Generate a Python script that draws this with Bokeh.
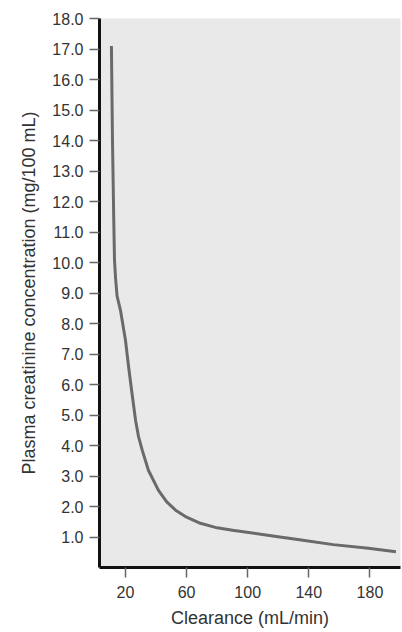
from bokeh.plotting import figure
from bokeh.models import Range1d, FixedTicker, PrintfTickFormatter
from bokeh.embed import file_html
from bokeh.resources import INLINE

# Data
clearance = [10.8, 11.5, 12.3, 12.8, 13.5, 14.5, 16.7, 18.5, 20, 22, 24, 26.6, 28.5, 31, 35,
             41.6, 47, 52.8, 60, 69, 80, 90, 113, 135, 156, 179, 197]
creatinine = [17.1, 14.0, 11.5, 10.1, 9.5, 8.9, 8.44, 7.9, 7.45, 6.6, 5.81, 4.83, 4.3, 3.84, 3.19,
              2.53, 2.15, 1.88, 1.65, 1.45, 1.3, 1.22, 1.06, 0.9, 0.75, 0.63, 0.52]

x_ticks = [20, 60, 100, 140, 180]
y_ticks = [1, 2, 3, 4, 5, 6, 7, 8, 9, 10, 11, 12, 13, 14, 15, 16, 17, 18]

x_label = "Clearance (mL/min)"
y_label = "Plasma creatinine concentration (mg/100 mL)"

FONT = "Liberation Sans"
TEXT = "#333333"

p = figure(width=402, height=632, output_backend="svg", toolbar_location=None,
           x_range=Range1d(3, 200), y_range=Range1d(0, 18),
           min_border_left=99, min_border_right=2, min_border_top=18, min_border_bottom=65)

p.background_fill_color = "#e9e9e9"
p.border_fill_color = "white"
p.outline_line_color = None
p.grid.visible = False

p.line(clearance, creatinine, line_color="#6a6a6a", line_width=3, line_join="round")

for ax in (p.xaxis, p.yaxis):
    ax.axis_line_color = "#111111"
    ax.axis_line_width = 3
    ax.major_tick_line_color = "#666666"
    ax.major_tick_line_width = 1.5
    ax.major_tick_in = 0
    ax.minor_tick_line_color = None
    ax.major_label_text_font = FONT
    ax.major_label_text_font_size = "16px"
    ax.major_label_text_color = TEXT
    ax.axis_label_text_font = FONT
    ax.axis_label_text_font_size = "18px"
    ax.axis_label_text_font_style = "normal"
    ax.axis_label_text_color = TEXT

p.xaxis.ticker = FixedTicker(ticks=x_ticks)
p.yaxis.ticker = FixedTicker(ticks=y_ticks)
p.yaxis.formatter = PrintfTickFormatter(format="%.1f")

p.xaxis.major_tick_out = 10
p.xaxis.major_label_standoff = 8
p.xaxis.axis_label = x_label
p.xaxis.axis_label_standoff = 7

p.yaxis.major_tick_out = 10
p.yaxis.major_label_standoff = 6
p.yaxis.axis_label = y_label
p.yaxis.axis_label_standoff = 10

open("out.html", "w").write(file_html(p, INLINE))
